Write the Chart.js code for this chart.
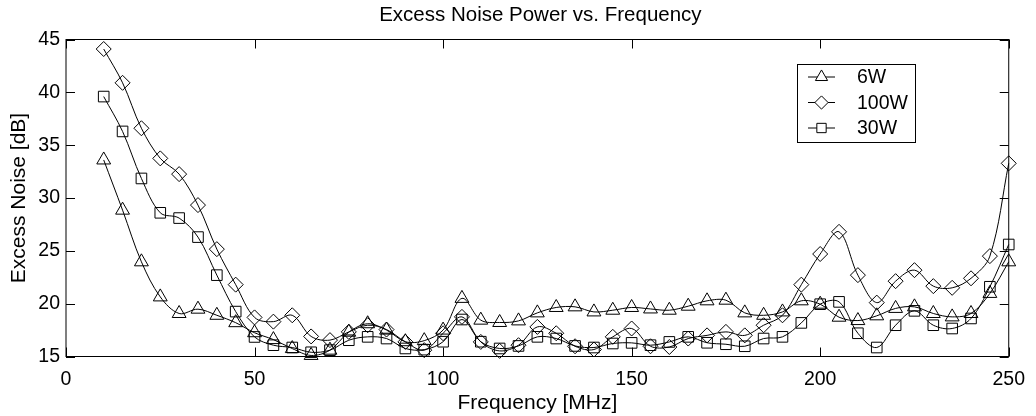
<!DOCTYPE html>
<html>
<head>
<meta charset="utf-8">
<script src="https://cdn.jsdelivr.net/npm/chart.js@4.4.0/dist/chart.umd.min.js"></script>
<style>
    html, body { margin: 0; padding: 0; background: #fff; }
    #wrap { width: 1036px; height: 416px; }
</style>
</head>
<body>
<div id="wrap"><canvas id="chart-noise"></canvas></div>
<script>
// Excess noise power vs. frequency, three power levels.

const freq = [10, 15, 20, 25, 30, 35, 40, 45, 50, 55, 60, 65, 70, 75, 80, 85, 90, 95, 100,
    105, 110, 115, 120, 125, 130, 135, 140, 145, 150, 155, 160, 165, 170, 175, 180, 185,
    190, 195, 200, 205, 210, 215, 220, 225, 230, 235, 240, 245, 250];

const noise6W = [33.6, 28.85, 23.96, 20.64, 19.07, 19.48, 18.9, 18.2, 17.25, 16.6, 15.75,
    15.1, 15.6, 17.3, 18.1, 17.5, 16.4, 16.5, 17.5, 20.5, 18.44, 18.22, 18.37, 19.13, 19.64,
    19.7, 19.22, 19.38, 19.64, 19.5, 19.38, 19.76, 20.27, 20.33, 19.13, 18.9, 19.22, 20.27,
    19.95, 18.72, 18.4, 18.85, 19.55, 19.7, 19.07, 18.75, 19.07, 20.97, 23.96];

const noise100W = [44.1, 40.9, 36.6, 33.75, 32.26, 29.33, 25.16, 21.8, 18.7, 18.3, 18.9,
    16.9, 16.55, 17.33, 17.96, 17.55, 16.38, 15.6, 17.2, 18.75, 16.38, 15.53, 16.07, 17.8,
    17.2, 15.97, 15.66, 16.86, 17.65, 15.97, 15.9, 16.7, 17.0, 17.33, 17.0, 17.96, 18.9,
    21.8, 24.7, 26.8, 22.7, 20.1, 22.13, 23.17, 21.66, 21.5, 22.4, 24.5, 33.28];

const noise30W = [39.6, 36.3, 31.85, 28.6, 28.1, 26.3, 22.7, 19.25, 16.85, 16.07, 15.85,
    15.4, 15.6, 16.54, 16.86, 16.7, 15.76, 15.65, 16.4, 18.5, 16.4, 15.76, 16.0, 16.86, 16.7,
    16.0, 15.85, 16.23, 16.29, 16.07, 16.38, 16.86, 16.3, 16.16, 15.97, 16.7, 16.86, 18.18,
    19.95, 20.17, 17.2, 15.85, 17.96, 19.32, 17.96, 17.65, 18.6, 21.6, 25.6];

const xTicks = [0, 50, 100, 150, 200, 250];
const yTicks = [15, 20, 25, 30, 35, 40, 45];

const FONT = '"Liberation Sans", Arial, Helvetica, sans-serif';
const TITLE = 'Excess Noise Power vs. Frequency';

function series(label, values, style, radius) {
    return {
        label: label,
        data: freq.map((f, i) => ({ x: f, y: values[i] })),
        borderColor: '#000',
        borderWidth: 1,
        pointStyle: style,
        pointRadius: radius,
        pointBorderColor: '#000',
        pointBackgroundColor: 'rgba(0,0,0,0)',
        pointBorderWidth: 1,
        tension: 0.35,
        fill: false,
        clip: false,
    };
}

// box, inward ticks, title and legend in the MATLAB look
const framePlugin = {
    id: 'frame',
    afterDraw(chart) {
        const { ctx, chartArea: a, scales } = chart;
        const tl = 9;
        ctx.save();
        ctx.strokeStyle = '#000';
        ctx.lineWidth = 1;
        ctx.strokeRect(a.left, a.top, a.right - a.left, a.bottom - a.top);

        ctx.beginPath();
        xTicks.forEach(v => {
            const px = Math.round(scales.x.getPixelForValue(v)) + 0.5;
            ctx.moveTo(px, a.bottom); ctx.lineTo(px, a.bottom - tl);
            ctx.moveTo(px, a.top); ctx.lineTo(px, a.top + tl);
        });
        yTicks.forEach(v => {
            const py = Math.round(scales.y.getPixelForValue(v)) + 0.5;
            ctx.moveTo(a.left, py); ctx.lineTo(a.left + tl, py);
            ctx.moveTo(a.right, py); ctx.lineTo(a.right - tl, py);
        });
        ctx.stroke();

        ctx.fillStyle = '#000';
        ctx.font = '20.5px ' + FONT;
        ctx.textAlign = 'center';
        ctx.textBaseline = 'middle';
        ctx.fillText(TITLE, (a.left + a.right) / 2 + 3, 15.5);

        // legend
        const bx = 797, by = 64, bw = 118, bh = 78;
        ctx.fillStyle = '#fff';
        ctx.fillRect(bx, by, bw, bh);
        ctx.strokeRect(bx + 0.5, by + 0.5, bw, bh);
        ctx.font = '19.5px ' + FONT;
        ctx.textAlign = 'left';
        chart.data.datasets.forEach((ds, i) => {
            const y = by + 13 + i * 25.5;
            ctx.beginPath();
            ctx.moveTo(808, y); ctx.lineTo(835, y);
            ctx.stroke();
            ctx.fillStyle = '#fff';
            Chart.helpers.drawPoint(ctx, {
                pointStyle: ds.pointStyle,
                radius: ds.pointRadius * 0.88,
                borderWidth: 1,
            }, 821.5, y);
            ctx.fillStyle = '#000';
            ctx.fillText(ds.label, 857, y + 1);
        });
        ctx.restore();
    },
};

new Chart(document.getElementById('chart-noise'), {
    type: 'line',
    data: {
        datasets: [
            series('6W', noise6W, 'triangle', 8),
            series('100W', noise100W, 'rectRot', 7.5),
            series('30W', noise30W, 'rect', 7.5),
        ],
    },
    options: {
        responsive: true,
        maintainAspectRatio: false,
        animation: false,
        layout: { padding: { top: 39.5, right: 18, left: 0, bottom: 0 } },
        plugins: {
            legend: { display: false },
            tooltip: { enabled: false },
        },
        scales: {
            x: {
                type: 'linear',
                min: 0,
                max: 250,
                afterBuildTicks: s => { s.ticks = xTicks.map(v => ({ value: v })); },
                afterFit: s => { s.height = 59.5; },
                grid: { display: false, drawTicks: false },
                border: { display: false },
                ticks: { color: '#000', padding: 11, font: { family: FONT, size: 19.5 } },
                title: {
                    display: true,
                    text: 'Frequency [MHz]',
                    color: '#000',
                    font: { family: FONT, size: 21, lineHeight: 1.2 },
                    padding: { top: 0, bottom: 0 },
                },
            },
            y: {
                min: 15,
                max: 45,
                afterBuildTicks: s => { s.ticks = yTicks.map(v => ({ value: v })); },
                afterFit: s => { s.width = 66; },
                grid: { display: false, drawTicks: false },
                border: { display: false },
                ticks: { color: '#000', padding: 6, font: { family: FONT, size: 19.5 } },
                title: {
                    display: true,
                    text: 'Excess Noise [dB]',
                    color: '#000',
                    font: { family: FONT, size: 21, lineHeight: 1.2 },
                    padding: { top: 7, bottom: 0 },
                },
            },
        },
    },
    plugins: [framePlugin],
});
</script>
</body>
</html>
